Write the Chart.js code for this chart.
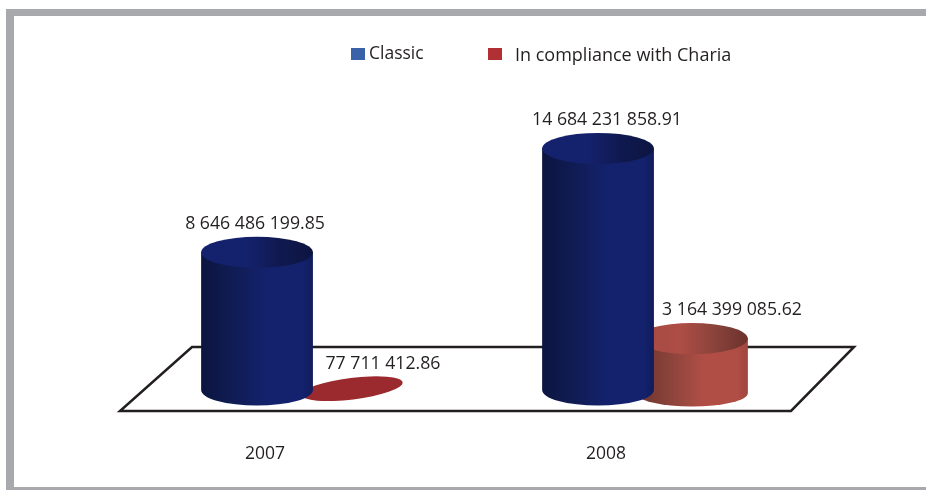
<!DOCTYPE html>
<html lang="en">
<head>
    <meta charset="UTF-8">
    <title>Classic and Charia-compliant amounts, 2007-2008</title>
    <script src="https://cdn.jsdelivr.net/npm/chart.js"></script>
    <style>
        body {
            margin: 0;
            background: #fff;
        }
        #frame {
            position: absolute;
            left: 6px;
            top: 9px;
            right: 0;
            bottom: 0;
            border: solid #a7a9ac;
            border-width: 7px 0 3px 8px;
        }
        canvas {
            position: absolute;
            left: 0;
            top: 0;
        }
    </style>
</head>
<body>
    <div id="frame"></div>
    <canvas id="chart" width="926" height="490"></canvas>

    <script>
        const years = ['2007', '2008'];
        const seriesNames = ['Classic', 'In compliance with Charia'];
        const classicValues = [8646486199.85, 14684231858.91];
        const chariaValues = [77711412.86, 3164399085.62];

        const FONT = '"Open Sans", sans-serif';
        const TEXT_COLOR = '#231f20';
        const RX_RY = 15.5;

        // gradient stops for the cylinder walls and their inner top face
        const looks = [
            { legend: '#3a62a8', side: ['#0c1540', '#101c55', '#14226e', '#14226e', '#101c5c'], inner: ['#14226e', '#14226e', '#10194f', '#0c1540'], baseShift: -11, depth: 0, bottomRy: 15.5 },
            { legend: '#b03034', side: ['#6d342d', '#8a433b', '#b04e46', '#b04e46', '#a0453d'], inner: ['#a84b43', '#ad4d45', '#8a433b', '#6b322c'], baseShift: -8, depth: -8, bottomRy: 13.5 }
        ];
        const sideStops = [0, 0.3, 0.6, 0.9, 1];
        const innerStops = [0, 0.4, 0.7, 1];

        // label offset from the top of each cylinder: [dataset][year]
        const labelShift = [
            [[-2, -28], [9, -28]],
            [[32, -36], [40, -37]]
        ];

        function formatAmount(v) {
            const parts = v.toFixed(2).split('.');
            return parts[0].replace(/\B(?=(\d{3})+$)/g, ' ') + '.' + parts[1];
        }

        function hGradient(ctx, x0, x1, colors, stops) {
            const g = ctx.createLinearGradient(x0, 0, x1, 0);
            colors.forEach((c, i) => g.addColorStop(stops[i], c));
            return g;
        }

        function drawCylinder(ctx, bar, look, zero) {
            const cx = bar.x;
            const rx = bar.width / 2;
            const topY = bar.y + look.depth;
            const baseY = zero + look.baseShift;

            // almost no height: the bar collapses to a flat tilted disc
            if (baseY - topY < 5) {
                ctx.fillStyle = '#9b2a2e';
                ctx.beginPath();
                ctx.ellipse(cx + 1, topY - 3, 51, 10.8, -7 * Math.PI / 180, 0, Math.PI * 2);
                ctx.fill();
                return;
            }

            ctx.fillStyle = hGradient(ctx, cx - rx, cx + rx, look.side, sideStops);
            ctx.beginPath();
            ctx.moveTo(cx - rx, topY);
            ctx.lineTo(cx - rx, baseY);
            ctx.ellipse(cx, baseY, rx, look.bottomRy, 0, Math.PI, 0, true);
            ctx.lineTo(cx + rx, topY);
            ctx.closePath();
            ctx.fill();

            ctx.fillStyle = hGradient(ctx, cx - rx, cx + rx, look.inner, innerStops);
            ctx.beginPath();
            ctx.ellipse(cx, topY, rx, RX_RY, 0, 0, Math.PI * 2);
            ctx.fill();
        }

        const cylinderPlugin = {
            id: 'cylinders',
            // floor under the bars
            beforeDatasetsDraw(chart) {
                const ctx = chart.ctx;
                const a = chart.chartArea;
                const zero = chart.scales.y.getPixelForValue(0);
                ctx.save();
                ctx.strokeStyle = TEXT_COLOR;
                ctx.lineWidth = 2.5;
                ctx.lineJoin = 'miter';
                ctx.beginPath();
                ctx.moveTo(a.left - 13.5, zero + 10);
                ctx.lineTo(a.right - 24.5, zero + 10);
                ctx.lineTo(a.right + 38.5, zero - 54);
                ctx.lineTo(a.left + 58.5, zero - 54);
                ctx.closePath();
                ctx.stroke();
                ctx.restore();
            },
            // replaces the flat bars, positions still come from the bar elements
            beforeDatasetDraw(chart, args) {
                const zero = chart.scales.y.getPixelForValue(0);
                args.meta.data.forEach(bar => {
                    drawCylinder(chart.ctx, bar, looks[args.index], zero);
                });
                return false;
            },
            afterDatasetsDraw(chart) {
                const ctx = chart.ctx;
                ctx.save();
                ctx.font = '17.7px ' + FONT;
                ctx.fillStyle = TEXT_COLOR;
                ctx.textAlign = 'center';
                ctx.textBaseline = 'middle';
                chart.data.datasets.forEach((ds, d) => {
                    chart.getDatasetMeta(d).data.forEach((bar, i) => {
                        const s = labelShift[d][i];
                        ctx.fillText(formatAmount(ds.data[i]), bar.x + s[0], bar.y + s[1]);
                    });
                });

                // legend
                ctx.textAlign = 'left';
                ctx.font = '17.5px ' + FONT;
                ctx.fillStyle = looks[0].legend;
                ctx.fillRect(351, 48, 14, 12);
                ctx.fillStyle = looks[1].legend;
                ctx.fillRect(488, 48, 14, 12);
                ctx.fillStyle = TEXT_COLOR;
                ctx.fillText(seriesNames[0], 369, 54);
                ctx.font = '18px ' + FONT;
                ctx.fillText(seriesNames[1], 515, 56);
                ctx.restore();
            }
        };

        new Chart(document.getElementById('chart'), {
            type: 'bar',
            data: {
                labels: years,
                datasets: [
                    { label: seriesNames[0], data: classicValues, backgroundColor: looks[0].legend },
                    { label: seriesNames[1], data: chariaValues, backgroundColor: looks[1].legend }
                ]
            },
            options: {
                responsive: false,
                animation: false,
                categoryPercentage: 0.551,
                barPercentage: 1.19,
                layout: {
                    padding: { left: 133.5, right: 110.5, top: 57, bottom: 26 }
                },
                plugins: {
                    legend: { display: false },
                    tooltip: { enabled: false }
                },
                scales: {
                    x: {
                        grid: { display: false, drawTicks: false },
                        border: { display: false },
                        // the label offset inflates the axis height otherwise
                        afterFit(scale) { scale.height = 63; },
                        ticks: {
                            color: TEXT_COLOR,
                            font: { family: FONT, size: 17.5 },
                            padding: 43,
                            labelOffset: -39
                        }
                    },
                    y: {
                        display: false,
                        min: 0,
                        max: 20000000000
                    }
                }
            },
            plugins: [cylinderPlugin]
        });
    </script>
</body>
</html>
